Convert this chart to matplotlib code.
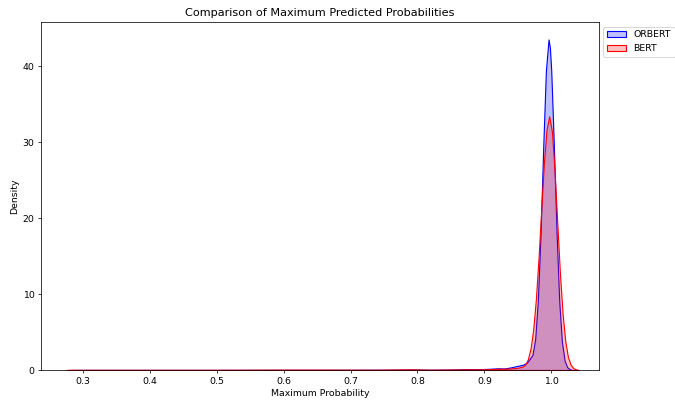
import numpy as np
import matplotlib
matplotlib.use("Agg")
import matplotlib.pyplot as plt

# density curves (x = max probability, y = density)
orbert_x = [0.28, 0.30, 0.40, 0.50, 0.60, 0.70, 0.75, 0.79, 0.82, 0.85, 0.875, 0.89,
            0.905, 0.92, 0.93, 0.94, 0.95, 0.958, 0.964, 0.968, 0.972, 0.976, 0.980,
            0.984, 0.988, 0.992, 0.996, 0.998, 1.000, 1.004, 1.008, 1.012, 1.016,
            1.020, 1.024, 1.028, 1.032]
orbert_y = [0.0, 0.01, 0.01, 0.01, 0.02, 0.02, 0.03, 0.06, 0.03, 0.05, 0.12, 0.10,
            0.15, 0.22, 0.20, 0.35, 0.55, 0.7, 1.0, 1.5, 2.0, 4.1, 9.2,
            17.9, 29.3, 39.4, 43.5, 42.4, 39.4, 29.3, 17.9, 8.96, 3.68,
            1.24, 0.35, 0.08, 0.0]

bert_x = [0.275, 0.28, 0.40, 0.50, 0.60, 0.66, 0.74, 0.79, 0.82, 0.875, 0.90, 0.92,
          0.94, 0.95, 0.957, 0.961, 0.965, 0.969, 0.973, 0.977, 0.981, 0.985, 0.989,
          0.993, 0.997, 1.001, 1.005, 1.009, 1.013, 1.017, 1.021, 1.025, 1.029,
          1.033, 1.037, 1.041]
bert_y = [0.0, 0.02, 0.02, 0.02, 0.04, 0.04, 0.03, 0.08, 0.03, 0.08, 0.08, 0.15,
          0.2, 0.3, 0.45, 0.7, 1.4, 2.8, 5.3, 9.3, 14.7, 21.1, 27.2,
          31.7, 33.4, 31.4, 26.2, 19.4, 12.7, 7.36, 3.78, 1.72, 0.70,
          0.25, 0.08, 0.0]

series = [("ORBERT", orbert_x, orbert_y, (0, 0, 1)),
          ("BERT", bert_x, bert_y, (1, 0, 0))]

fig = plt.figure(figsize=(10, 402 / 67.5), dpi=67.5)
ax = fig.add_axes([0.0607, 0.0796, 0.8263, 0.8657])

for name, xs, ys, c in series:
    ax.fill_between(xs, ys, facecolor=(*c, 0.25), edgecolor=c, linewidth=1.2, label=name)

ax.set_xlim(0.237, 1.071)
ax.set_ylim(0, 45.8)
ax.set_title("Comparison of Maximum Predicted Probabilities")
ax.set_xlabel("Maximum Probability")
ax.set_ylabel("Density")
ax.legend(bbox_to_anchor=(1, 1), loc="upper left")

fig.savefig("out.png", dpi=67.5)
